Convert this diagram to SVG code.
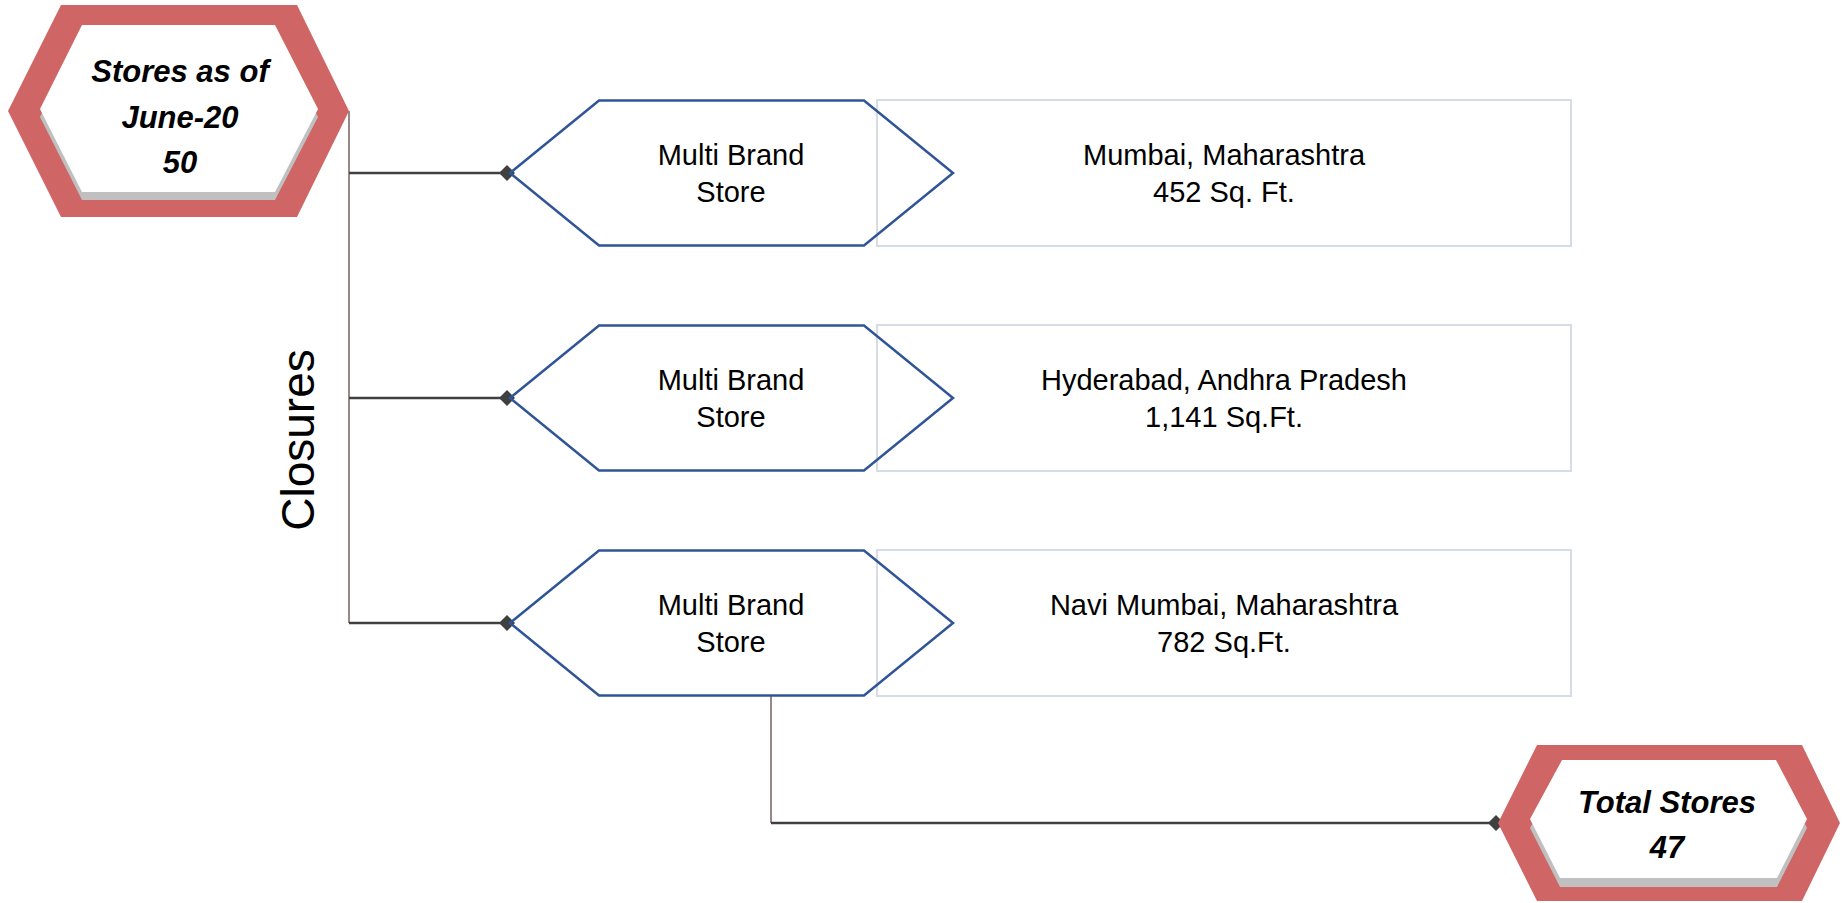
<svg xmlns="http://www.w3.org/2000/svg" width="1844" height="903" viewBox="0 0 1844 903">
<style>
.red{fill:#CF6565;}
.shadow{fill:#C0C0C0;}
.inner{fill:#FFFFFF;}
.big{font-family:"Liberation Sans",Arial,sans-serif;font-size:31px;font-weight:bold;font-style:italic;fill:#000;text-anchor:middle;}
.lbl{font-family:"Liberation Sans",Arial,sans-serif;font-size:29px;fill:#000;text-anchor:middle;}
.hex{fill:none;stroke:#2F5597;stroke-width:2.5;}
.box{fill:#FFFFFF;stroke:#D6DCE5;stroke-width:2;}
.vline{stroke:#7F6A66;stroke-width:1.6;fill:none;}
.hline{stroke:#404040;stroke-width:2.5;fill:none;}
</style>
<defs>
<marker id="dia" viewBox="0 0 16 16" refX="11" refY="8" markerWidth="16" markerHeight="16" markerUnits="userSpaceOnUse" orient="auto">
<path d="M0,8 L8,0 L16,8 L8,16 Z" fill="#404040"/>
</marker>
</defs>
<rect width="1844" height="903" fill="#FFFFFF"/>

<g id="connectors">
<line class="vline" x1="349" y1="111" x2="349" y2="623"/>
<line class="hline" x1="349" y1="173" x2="510" y2="173" marker-end="url(#dia)"/>
<line class="hline" x1="349" y1="398" x2="510" y2="398" marker-end="url(#dia)"/>
<line class="hline" x1="349" y1="623" x2="510" y2="623" marker-end="url(#dia)"/>
<line class="vline" x1="771" y1="695" x2="771" y2="823"/>
<line class="hline" x1="771" y1="823" x2="1499" y2="823" marker-end="url(#dia)"/>
</g>

<g id="start">
<polygon class="red" points="61,5 297,5 349,111 297,217 61,217 8,111"/>
<polygon class="shadow" points="82,33 275,33 318,117 275,200 82,200 40,117"/>
<polygon class="inner" points="82,25 275,25 318,109 275,192 82,192 40,109"/>
<text class="big" x="180" y="82">Stores as of</text>
<text class="big" x="180" y="128">June-20</text>
<text class="big" x="180" y="173">50</text>
</g>

<g id="closures-label">
<text transform="translate(314,440) rotate(-90)" font-family="Liberation Sans, Arial, sans-serif" font-size="46" text-anchor="middle" fill="#000">Closures</text>
</g>

<g id="store1">
<rect class="box" x="877" y="100" width="694" height="146"/>
<polygon class="hex" points="510,173 599,100.5 864,100.5 953,173 864,245.5 599,245.5"/>
<text class="lbl" x="731" y="165">Multi Brand</text>
<text class="lbl" x="731" y="202">Store</text>
<text class="lbl" x="1224" y="165">Mumbai, Maharashtra</text>
<text class="lbl" x="1224" y="202">452 Sq. Ft.</text>
</g>

<g id="store2">
<rect class="box" x="877" y="325" width="694" height="146"/>
<polygon class="hex" points="510,398 599,325.5 864,325.5 953,398 864,470.5 599,470.5"/>
<text class="lbl" x="731" y="390">Multi Brand</text>
<text class="lbl" x="731" y="427">Store</text>
<text class="lbl" x="1224" y="390">Hyderabad, Andhra Pradesh</text>
<text class="lbl" x="1224" y="427">1,141 Sq.Ft.</text>
</g>

<g id="store3">
<rect class="box" x="877" y="550" width="694" height="146"/>
<polygon class="hex" points="510,623 599,550.5 864,550.5 953,623 864,695.5 599,695.5"/>
<text class="lbl" x="731" y="615">Multi Brand</text>
<text class="lbl" x="731" y="652">Store</text>
<text class="lbl" x="1224" y="615">Navi Mumbai, Maharashtra</text>
<text class="lbl" x="1224" y="652">782 Sq.Ft.</text>
</g>

<g id="total">
<polygon class="red" points="1537,745 1802,745 1840,823 1802,901 1537,901 1498,823"/>
<polygon class="shadow" points="1562,769 1776,769 1807,828 1777,887 1560,887 1530,828"/>
<polygon class="inner" points="1562,760 1776,760 1807,819 1777,878 1560,878 1530,819"/>
<text class="big" x="1667" y="813">Total Stores</text>
<text class="big" x="1667" y="858">47</text>
</g>
</svg>
